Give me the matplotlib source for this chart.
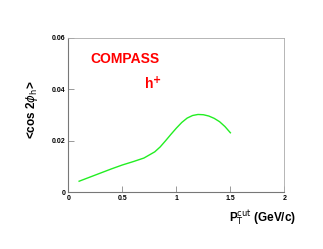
import numpy as np
import matplotlib.pyplot as plt

plt.rcParams['font.family'] = ['Liberation Sans', 'DejaVu Sans']

pt_cut = [0.1, 0.2, 0.3, 0.4, 0.5, 0.6, 0.7, 0.8, 0.85, 0.9, 0.95, 1.0, 1.05,
          1.1, 1.15, 1.2, 1.25, 1.3, 1.35, 1.4, 1.45, 1.5]
cos2phi = [0.0043, 0.0059, 0.0075, 0.0091, 0.0106, 0.0119, 0.0133, 0.0157,
           0.0176, 0.0200, 0.0225, 0.0249, 0.0271, 0.0288, 0.0298, 0.0302,
           0.0301, 0.0296, 0.0287, 0.0274, 0.0255, 0.0231]
xticks = [0, 0.5, 1, 1.5, 2]
xticklabels = ['0', '0.5', '1', '1.5', '2']
yticks = [0, 0.02, 0.04, 0.06]
yticklabels = ['0', '0.02', '0.04', '0.06']

fig = plt.figure(figsize=(3.23, 2.49), dpi=100)
ax = fig.add_axes([0.2115, 0.2277, 0.669, 0.621])

ax.plot(pt_cut, cos2phi, color='#22ee22', lw=1.0)

ax.set_xlim(0, 2)
ax.set_ylim(0, 0.06)
ax.set_xticks(xticks)
ax.set_xticklabels(xticklabels)
ax.set_yticks(yticks)
ax.set_yticklabels(yticklabels)
ax.tick_params(direction='in', length=4, width=0.6, color='#888888',
               labelsize=5, pad=2)
for lab in ax.get_xticklabels() + ax.get_yticklabels():
    lab.set_fontweight('bold')
for s in ['left', 'bottom']:
    ax.spines[s].set_color('#777777')
    ax.spines[s].set_linewidth(0.8)
for s in ['right', 'top']:
    ax.spines[s].set_color('#aaaaaa')
    ax.spines[s].set_linewidth(0.6)

ax.text(0.2, 0.0517, 'COMPASS', color='red', fontsize=10, fontweight='bold',
        va='center', ha='left')
ax.text(0.70, 0.042, r'h$^{\mathbf{+}}$', color='red', fontsize=10,
        fontweight='bold', va='center', ha='left')

fig.text(0.10, 0.56, r'<cos 2$\phi_{\mathrm{h}}$>', rotation=90, fontsize=8.5,
         fontweight='bold', ha='center', va='center')
fig.text(0.917, 0.122, r'P$_{\mathrm{T}}^{\mathrm{cut}}$ (GeV/c)', fontsize=8.5,
         fontweight='bold', ha='right', va='center')

fig.savefig('out.png', dpi=100)
